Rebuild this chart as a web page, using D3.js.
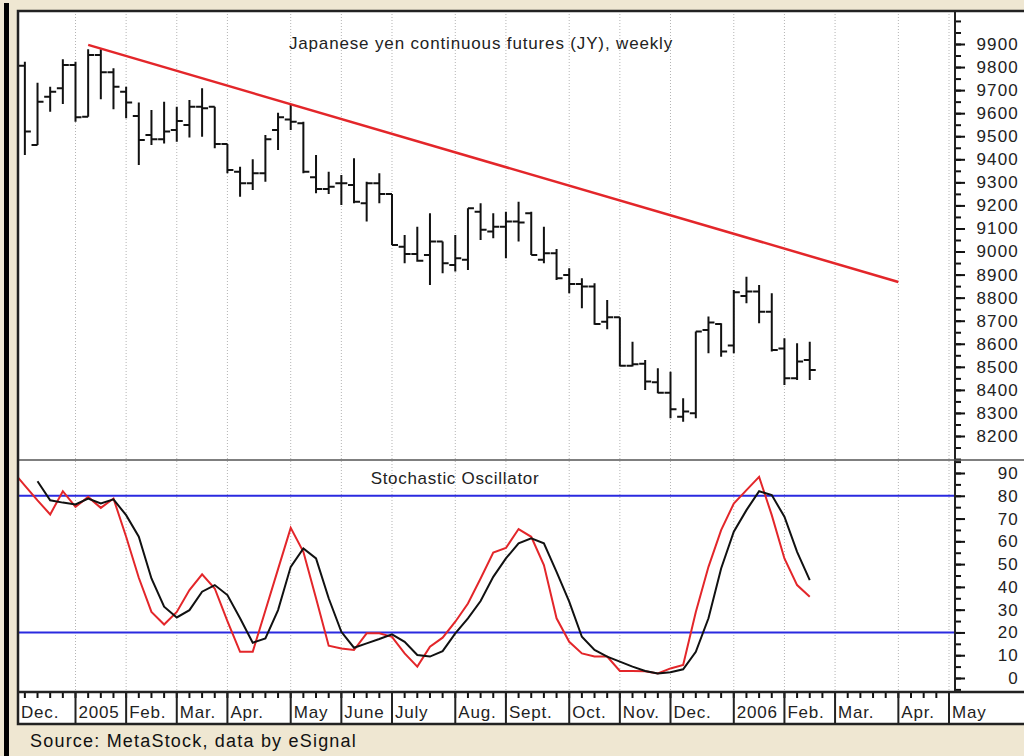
<!DOCTYPE html>
<html>
<head>
<meta charset="utf-8">
<script src="https://cdn.jsdelivr.net/npm/d3@7"></script>
<style>
  body { margin: 0; background: #efe7d2; }
  svg { display: block; font-family: "Liberation Sans", Arial, sans-serif; }
</style>
</head>
<body>
<script>
//svg dimensions
var width = 1024,
    height = 756;

//weekly bars, week 0 = first bar (Dec. 2004)
var priceOpen  = [9806, 9462, 9671, 9708, 9809, 9585, 9852, 9777, 9693, 9588, 9505, 9487, 9527, 9549, 9628, 9628,
                  9466, 9346, 9296, 9339, 9527, 9573, 9556, 9322, 9271, 9296, 9289, 9209, 9296, 9250, 9021, 8989,
                  8985, 9043, 8942, 8964, 9173, 9087, 9108, 9130, 9166, 8964, 8993, 8898, 8859, 8848, 8696, 8715,
                  8505, 8513, 8433, 8388, 8284, 8299, 8660, 8686, 8592, 8807, 8827, 8739, 8580, 8450, 8530];
var priceHigh  = [9823, 9732, 9715, 9834, 9823, 9877, 9877, 9795, 9715, 9646, 9614, 9650, 9628, 9657, 9708, 9628,
                  9466, 9368, 9400, 9505, 9602, 9636, 9563, 9419, 9346, 9332, 9404, 9303, 9339, 9250, 9072, 9108,
                  9166, 9043, 9072, 9188, 9209, 9166, 9173, 9216, 9173, 9108, 9011, 8927, 8884, 8862, 8790, 8715,
                  8609, 8530, 8494, 8479, 8364, 8653, 8718, 8689, 8833, 8891, 8855, 8819, 8624, 8602, 8609];
var priceLow   = [9419, 9462, 9606, 9640, 9563, 9585, 9660, 9617, 9578, 9375, 9462, 9469, 9476, 9495, 9498, 9448,
                  9339, 9238, 9267, 9303, 9440, 9527, 9339, 9253, 9250, 9202, 9209, 9130, 9209, 9028, 8949, 8956,
                  8855, 8906, 8913, 8920, 9050, 9058, 8971, 9043, 8985, 8949, 8877, 8819, 8754, 8682, 8663, 8501,
                  8501, 8400, 8385, 8277, 8262, 8277, 8559, 8544, 8559, 8776, 8689, 8566, 8421, 8443, 8443];
var priceClose = [9520, 9650, 9693, 9809, 9582, 9852, 9777, 9715, 9646, 9484, 9487, 9520, 9566, 9628, 9621, 9466,
                  9354, 9296, 9339, 9487, 9582, 9563, 9346, 9271, 9281, 9296, 9216, 9296, 9250, 9028, 8989, 8960,
                  9043, 8949, 8971, 9188, 9094, 9108, 9130, 9126, 8985, 8993, 8884, 8859, 8848, 8686, 8715, 8505,
                  8511, 8436, 8388, 8316, 8306, 8653, 8692, 8566, 8823, 8827, 8739, 8573, 8450, 8523, 8486];

//stochastic %K (red) begins one week before the first bar, %D (black) at week 1
var stochKStart = -1;
var stochK = [91, 84.5, 78, 71.8, 82, 75.1, 79.5, 74.7, 78.8, 62, 44, 29, 23.5, 29, 38.6, 45.5, 39.3, 25, 11.5, 11.5,
              29.6, 47.8, 65.9, 55.4, 35, 14.2, 13, 12.3, 19.6, 19.6, 18.1, 10.8, 5, 13.7, 17.7, 24.7, 32.7, 43.7,
              55.1, 57.1, 65.4, 62, 49.6, 26.2, 15.9, 10.8, 9.4, 9.4, 3.1, 3.1, 3, 2, 4.2, 5.7, 29, 48.8, 64.9,
              76.6, 82.5, 88.3, 71.5, 52.5, 40.8, 35.7];
var stochDStart = 1;
var stochD = [86.4, 78, 77, 76.2, 78.8, 76.6, 78.4, 71.5, 62, 43.7, 31.3, 26.6, 29.8, 37.9, 40.8, 36.4, 26.2, 15.5,
              17.4, 29.8, 48.8, 56.9, 52.5, 35, 20.3, 13.3, 15.2, 17.1, 19.2, 15.9, 10.1, 9.4, 11.8, 19.6, 26.2,
              33.8, 44.4, 52.5, 59.1, 61.3, 59.1, 46.6, 33.5, 18.1, 12.3, 9.4, 7.2, 5, 3.1, 2, 2.5, 3.8, 11.5,
              26.2, 48.1, 64.2, 73.7, 82, 80.3, 70.8, 55.4, 43];
var stochLevels = [20, 80];

//trend line (week, price)
var trendWeeks = [5, 69];
var trendValues = [9896, 8868];

//date band: first week of each month and its label
var monthWeeks  = [-1, 4, 8, 12, 16, 21, 25, 29, 34, 38, 43, 47, 51, 56, 60, 64, 69, 73];
var monthLabels = ['Dec.', '2005', 'Feb.', 'Mar.', 'Apr.', 'May', 'June', 'July', 'Aug.', 'Sept.', 'Oct.', 'Nov.',
                   'Dec.', '2006', 'Feb.', 'Mar.', 'Apr.', 'May'];
var lastTickWeek = 72;

//right axis labels
var priceLabels = [8200, 8300, 8400, 8500, 8600, 8700, 8800, 8900, 9000, 9100, 9200, 9300, 9400, 9500, 9600, 9700, 9800, 9900];
var stochLabels = [0, 10, 20, 30, 40, 50, 60, 70, 80, 90];

//layout
var plotLeft = 18,
    axisX = 955,
    frameTop = 11,
    split = 460,
    bandTop = 692,
    bandBottom = 724;

//scales
var x = d3.scaleLinear().domain([4, 73]).range([75.5, 949]);
var yPrice = d3.scaleLinear().domain([8200, 9900]).range([436, 44]);
var yStoch = d3.scaleLinear().domain([0, 90]).range([678, 473]);

var svg = d3.select('body')
  .append('svg')
  .attr('width', width)
  .attr('height', height);

//background, black edge and white frame
svg.append('rect').attr('width', width).attr('height', height).attr('fill', '#efe7d2');
svg.append('rect').attr('x', 4).attr('y', 3).attr('width', 5).attr('height', height - 3).attr('fill', '#000');
svg.append('rect')
  .attr('x', plotLeft).attr('y', frameTop)
  .attr('width', width - plotLeft).attr('height', bandBottom - frameTop)
  .attr('fill', '#fff');

//clip paths for both panels
var defs = svg.append('defs');
defs.append('clipPath').attr('id', 'clip-price')
  .append('rect').attr('x', plotLeft).attr('y', frameTop).attr('width', axisX - plotLeft).attr('height', split - frameTop);
defs.append('clipPath').attr('id', 'clip-stoch')
  .append('rect').attr('x', plotLeft).attr('y', split).attr('width', axisX - plotLeft).attr('height', bandTop - split);

//dotted month grid
svg.append('g')
  .selectAll('line')
  .data(monthWeeks.filter(function(d) { return d >= 0; }))
  .enter().append('line')
  .attr('x1', function(d) { return x(d); })
  .attr('x2', function(d) { return x(d); })
  .attr('y1', frameTop)
  .attr('y2', bandTop)
  .attr('stroke', '#b4b4b4')
  .attr('stroke-width', 1)
  .attr('stroke-dasharray', '1,2');

//price bars: left tick = open, right tick = close
var bars = d3.range(priceOpen.length);
svg.append('g')
  .attr('clip-path', 'url(#clip-price)')
  .selectAll('path')
  .data(bars)
  .enter().append('path')
  .attr('d', function(i) {
    var cx = x(i);
    return 'M' + cx + ',' + yPrice(priceHigh[i]) + 'V' + yPrice(priceLow[i]) +
      'M' + (cx - 6) + ',' + yPrice(priceOpen[i]) + 'H' + cx +
      'M' + cx + ',' + yPrice(priceClose[i]) + 'H' + (cx + 6);
  })
  .attr('fill', 'none')
  .attr('stroke', '#111')
  .attr('stroke-width', 2);

//trend line
svg.append('line')
  .attr('x1', x(trendWeeks[0])).attr('y1', yPrice(trendValues[0]))
  .attr('x2', x(trendWeeks[1])).attr('y2', yPrice(trendValues[1]))
  .attr('stroke', '#e3262a')
  .attr('stroke-width', 2.5);

svg.append('text')
  .attr('x', 481).attr('y', 49)
  .attr('text-anchor', 'middle')
  .attr('font-size', 17)
  .attr('letter-spacing', 0.85)
  .attr('fill', '#222')
  .text('Japanese yen continuous futures (JY), weekly');

//stochastic panel
var stoch = svg.append('g').attr('clip-path', 'url(#clip-stoch)');

stoch.selectAll('.level')
  .data(stochLevels)
  .enter().append('line')
  .attr('class', 'level')
  .attr('x1', plotLeft).attr('x2', axisX)
  .attr('y1', function(d) { return yStoch(d); })
  .attr('y2', function(d) { return yStoch(d); })
  .attr('stroke', '#2a2ae0')
  .attr('stroke-width', 2);

var lineK = d3.line()
  .x(function(d, i) { return x(i + stochKStart); })
  .y(function(d) { return yStoch(d); });
var lineD = d3.line()
  .x(function(d, i) { return x(i + stochDStart); })
  .y(function(d) { return yStoch(d); });

stoch.append('path')
  .datum(stochK)
  .attr('d', lineK)
  .attr('fill', 'none')
  .attr('stroke', '#e3262a')
  .attr('stroke-width', 2);

stoch.append('path')
  .datum(stochD)
  .attr('d', lineD)
  .attr('fill', 'none')
  .attr('stroke', '#111')
  .attr('stroke-width', 2);

svg.append('text')
  .attr('x', 455).attr('y', 484)
  .attr('text-anchor', 'middle')
  .attr('font-size', 17)
  .attr('letter-spacing', 0.7)
  .attr('fill', '#222')
  .text('Stochastic Oscillator');

//right axes
function rightAxis(scale, minor, major) {
  var g = svg.append('g').attr('transform', 'translate(' + axisX + ',0)');
  g.append('g')
    .call(d3.axisRight(scale).tickValues(minor).tickSize(6).tickFormat(''));
  var labels = g.append('g')
    .call(d3.axisRight(scale).tickValues(major).tickSize(10).tickFormat(d3.format('d')));
  g.selectAll('.domain').remove();
  g.selectAll('.tick line').attr('stroke', '#111').attr('stroke-width', 2);
  labels.attr('font-size', 17).attr('font-family', null);
  labels.selectAll('text')
    .attr('x', 64)
    .attr('text-anchor', 'end')
    .attr('letter-spacing', 1.2)
    .attr('fill', '#222');
}

rightAxis(yPrice, d3.range(8100, 10050, 50), priceLabels);
rightAxis(yStoch, d3.range(-5, 100, 5), stochLabels);

svg.append('line')
  .attr('x1', axisX).attr('x2', axisX)
  .attr('y1', frameTop).attr('y2', bandTop)
  .attr('stroke', '#222').attr('stroke-width', 2);

//panel separator
svg.append('line')
  .attr('x1', plotLeft).attr('x2', width)
  .attr('y1', split).attr('y2', split)
  .attr('stroke', '#555').attr('stroke-width', 1.5);

//date band
var band = svg.append('g');

band.selectAll('.wk')
  .data(d3.range(0, lastTickWeek + 1))
  .enter().append('line')
  .attr('class', 'wk')
  .attr('x1', function(d) { return x(d); })
  .attr('x2', function(d) { return x(d); })
  .attr('y1', bandTop).attr('y2', bandTop + 6)
  .attr('stroke', '#111').attr('stroke-width', 2);

band.selectAll('.sep')
  .data(monthWeeks.filter(function(d) { return d >= 0; }))
  .enter().append('line')
  .attr('class', 'sep')
  .attr('x1', function(d) { return x(d); })
  .attr('x2', function(d) { return x(d); })
  .attr('y1', bandTop).attr('y2', bandBottom)
  .attr('stroke', '#222').attr('stroke-width', 2);

band.selectAll('text')
  .data(monthWeeks)
  .enter().append('text')
  .attr('x', function(d) { return Math.max(x(d), plotLeft) + 3; })
  .attr('y', 718)
  .attr('font-size', 17)
  .attr('letter-spacing', 0.8)
  .attr('fill', '#222')
  .text(function(d, i) { return monthLabels[i]; });

//frame borders
svg.append('path')
  .attr('d', 'M' + width + ',' + frameTop + 'H' + plotLeft + 'V' + bandBottom + 'H' + width +
    'M' + plotLeft + ',' + bandTop + 'H' + width)
  .attr('fill', 'none')
  .attr('stroke', '#222')
  .attr('stroke-width', 2.5);

//source note
svg.append('text')
  .attr('x', 30).attr('y', 747)
  .attr('font-size', 18)
  .attr('letter-spacing', 1.2)
  .attr('fill', '#111')
  .text('Source: MetaStock, data by eSignal');
</script>
</body>
</html>
